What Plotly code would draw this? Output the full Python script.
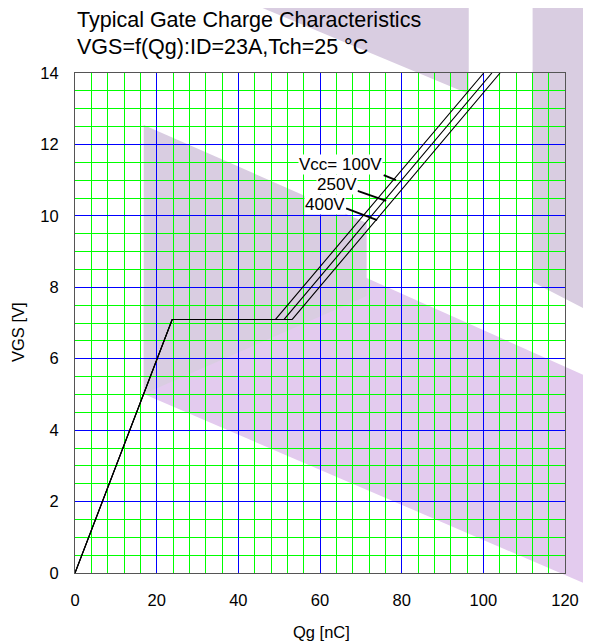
import plotly.graph_objects as go

# ---- data ----
vgs_pts = [0, 7.1, 7.1, 14]
qg_100v = [0, 23.8, 49.1, 100.1]
qg_250v = [0, 23.8, 51.2, 102.1]
qg_400v = [0, 23.8, 53.2, 104.1]

x_ticks = [0, 20, 40, 60, 80, 100, 120]
y_ticks = [0, 2, 4, 6, 8, 10, 12, 14]

label_texts = ["Vcc= 100V", "250V", "400V"]
label_x = [65.1, 64.2, 61.3]
label_y = [11.45, 10.89, 10.33]
pointer_x0 = [75.6, 69.2, 66.4]
pointer_y0 = [11.14, 10.70, 10.21]
pointer_x1 = [78.6, 76.2, 74.0]
pointer_y1 = [11.00, 10.42, 9.88]

# page has an 8px body margin -> figure is 8px smaller
W, H = 583, 636
L, R, T, B = 67, 17, 65, 71
pw, ph = W - L - R, H - T - B
PL, PB = 75, 573  # plot left / bottom in page pixels

def px(x):
    return (x - PL) / pw

def py(y):
    return (PB - y) / ph

FONT = "Liberation Sans, Arial, sans-serif"

fig = go.Figure()
for q in [qg_100v, qg_250v, qg_400v]:
    fig.add_trace(go.Scatter(x=q, y=vgs_pts, mode="lines",
                             line=dict(color="black", width=1.1),
                             showlegend=False, hoverinfo="skip"))

shapes = []
def poly(pts, color):
    path = "M " + " L ".join(f"{px(a):.4f},{py(b):.4f}" for a, b in pts) + " Z"
    return dict(type="path", xref="paper", yref="paper", path=path,
                fillcolor=color, line=dict(width=0), layer="below")

shapes.append(poly([(145, 300), (372, 278), (600, 378), (600, 586), (145, 394)], "#e3cbee"))
shapes.append(poly([(145, 125), (372, 223), (372, 296), (145, 394)], "#d9cde1"))
shapes.append(poly([(222, -10), (476, 94), (476, -10)], "#d9cde1"))
shapes.append(poly([(541, -10), (600, -10), (600, 312), (541, 282)], "#d9cde1"))

for i in range(len(label_texts)):
    shapes.append(dict(type="line", xref="x", yref="y",
                       x0=pointer_x0[i], y0=pointer_y0[i],
                       x1=pointer_x1[i], y1=pointer_y1[i],
                       line=dict(color="black", width=2)))

annotations = []
for i in range(len(label_texts)):
    annotations.append(dict(x=label_x[i], y=label_y[i], xref="x", yref="y",
                            xanchor="center", yanchor="middle",
                            text=label_texts[i], showarrow=False,
                            bgcolor="white", borderpad=0,
                            font=dict(family=FONT, size=17, color="black")))

annotations += [
    dict(x=0, y=py(19.5), xref="paper", yref="paper", xanchor="left", yanchor="middle",
         text="Typical Gate Charge Characteristics", showarrow=False,
         font=dict(family=FONT, size=21.5, color="black")),
    dict(x=0, y=py(47), xref="paper", yref="paper", xanchor="left", yanchor="middle",
         text="VGS=f(Qg):ID=23A,Tch=25 °C", showarrow=False,
         font=dict(family=FONT, size=21.5, color="black")),
    dict(x=px(17), y=py(332), xref="paper", yref="paper", textangle=-90,
         xanchor="center", yanchor="middle",
         text="VGS [V]", showarrow=False,
         font=dict(family=FONT, size=16.5, color="black")),
    dict(x=px(326), y=py(632), xref="paper", yref="paper",
         xanchor="center", yanchor="middle",
         text="Qg [nC]", showarrow=False,
         font=dict(family=FONT, size=16.5, color="black")),
]

fig.update_layout(
    width=W, height=H,
    margin=dict(l=L, r=R, t=T, b=B),
    paper_bgcolor="white", plot_bgcolor="rgba(0,0,0,0)",
    shapes=shapes, annotations=annotations,
    font=dict(family=FONT, size=16.5, color="black"),
)
fig.update_xaxes(range=[0, 120], tickvals=x_ticks, showgrid=True,
                 gridcolor="#0000ff", gridwidth=1,
                 minor=dict(dtick=4, showgrid=True, gridcolor="#00ff00", gridwidth=1),
                 showline=True, mirror=True, linecolor="#555555", linewidth=1,
                 zeroline=False, ticks="", ticklabelstandoff=12,
                 tickfont=dict(family=FONT, size=16.5, color="black"))
fig.update_yaxes(range=[0, 14], tickvals=y_ticks, showgrid=True,
                 gridcolor="#0000ff", gridwidth=1,
                 minor=dict(dtick=0.5, showgrid=True, gridcolor="#00ff00", gridwidth=1),
                 showline=True, mirror=True, linecolor="#555555", linewidth=1,
                 zeroline=False, ticks="", ticklabelstandoff=12,
                 tickfont=dict(family=FONT, size=16.5, color="black"))

fig.write_html("out.html")
